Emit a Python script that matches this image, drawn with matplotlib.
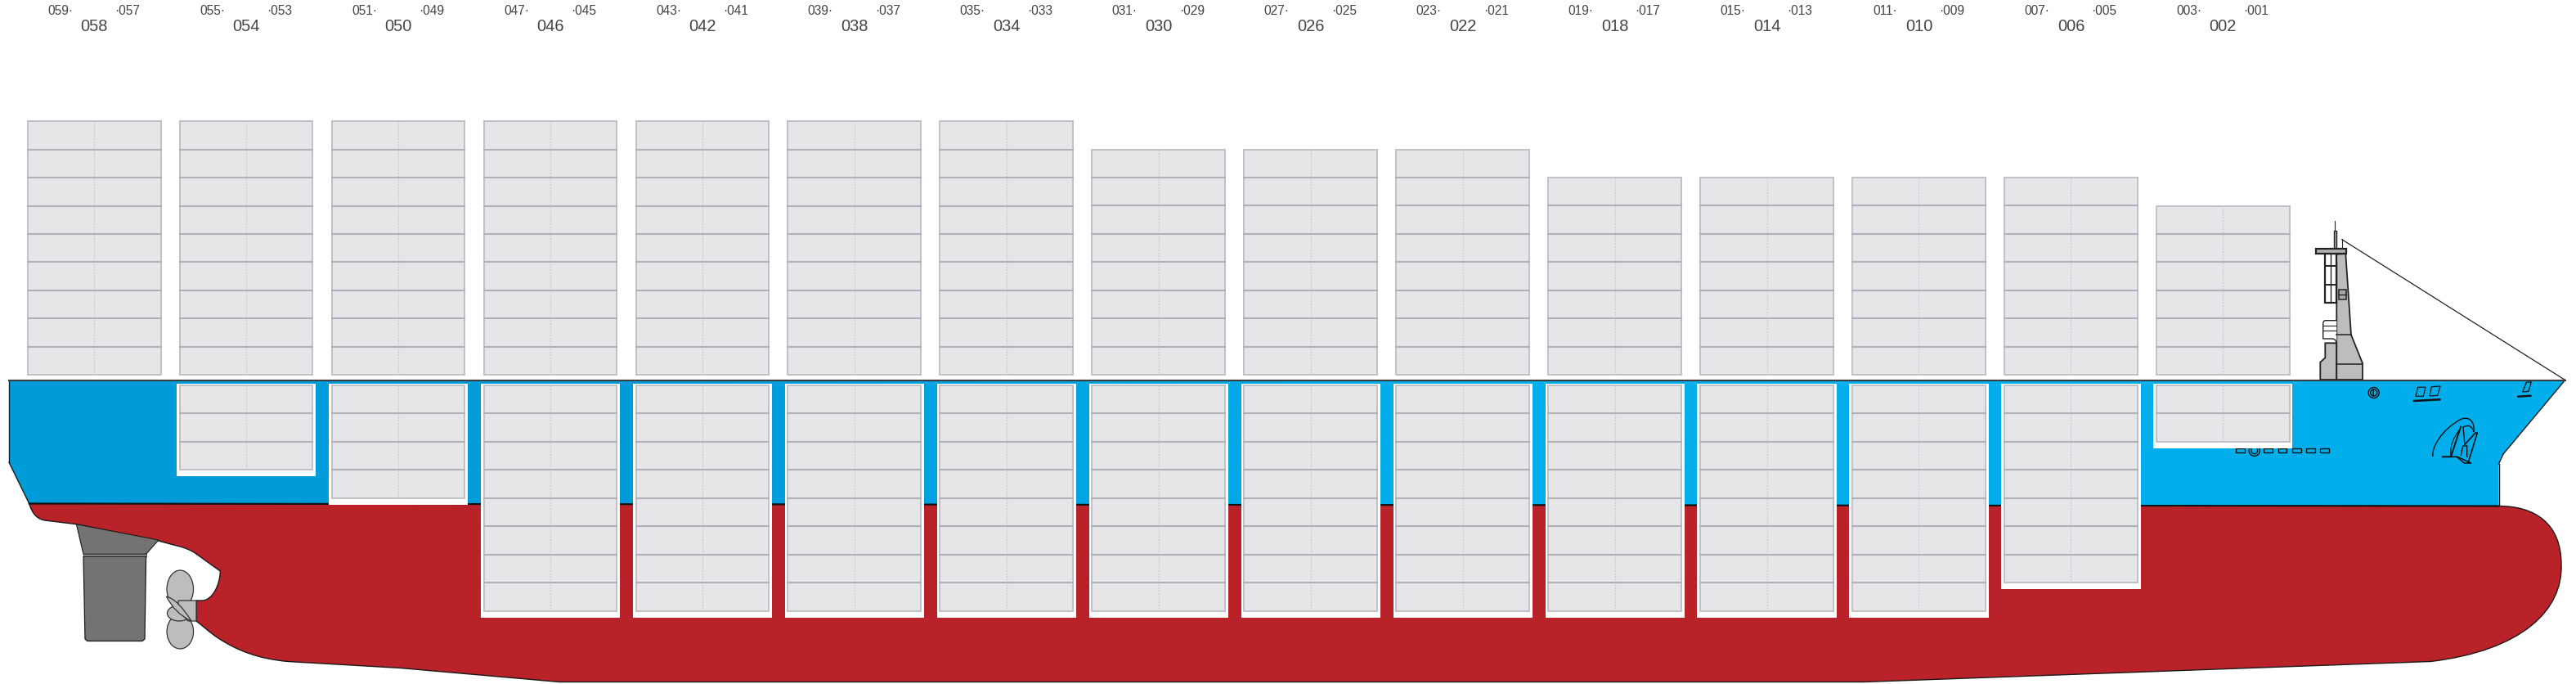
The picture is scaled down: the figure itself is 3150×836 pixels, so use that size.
import matplotlib
matplotlib.use("Agg")
import matplotlib.pyplot as plt
import numpy as np
from matplotlib.patches import Circle, Ellipse, PathPatch, Polygon, Rectangle
from matplotlib.path import Path

plt.rcParams['font.family'] = ['Liberation Sans', 'DejaVu Sans']

# one entry per bay, aft to fore
bay_labels = ["058", "054", "050", "046", "042", "038", "034", "030",
              "026", "022", "018", "014", "010", "006", "002"]
aft_labels = ["059", "055", "051", "047", "043", "039", "035", "031",
              "027", "023", "019", "015", "011", "007", "003"]
fore_labels = ["057", "053", "049", "045", "041", "037", "033", "029",
               "025", "021", "017", "013", "009", "005", "001"]
deck_rows = [9, 9, 9, 9, 9, 9, 9, 8, 8, 8, 7, 7, 7, 7, 6]
hold_rows = [0, 3, 4, 8, 8, 8, 8, 8, 8, 8, 8, 8, 8, 7, 2]

BAY_X0 = 33.7
BAY_PITCH = 185.95
BAY_W = 162.8
ROW_H = 34.45
DECK_BOTTOM = 458.2
HOLD_TOP = 471.0

RED = "#b92229"
LINE = "#1a1a1a"
GREY = "#bdbdbd"
DARK_GREY = "#737373"

# outlines in picture pixels
M, L, C3, C4 = Path.MOVETO, Path.LINETO, Path.CURVE3, Path.CURVE4
red_hull = [
    (M, (35.7, 615.5)), (L, (3055.5, 618.5)),
    (C4, (3100, 618.5)), (C4, (3132, 640)), (C4, (3132, 690)),
    (C4, (3134, 745)), (C4, (3085, 795)), (C4, (2972, 808.5)),
    (L, (2280, 833.5)), (L, (684, 833.5)), (L, (490, 816.5)), (L, (352, 808.5)),
    (C4, (315, 805)), (C4, (290, 795)), (C4, (267, 780)),
    (C4, (255, 772)), (C4, (248, 765)), (C4, (240, 759)),
    (L, (240, 734)), (L, (248, 734)),
    (C4, (260, 733)), (C4, (269, 715)), (C4, (269.3, 698)),
    (L, (240, 677)),
    (C4, (228, 668)), (C4, (210, 666)), (C4, (193.9, 661)),
    (L, (93.4, 640.7)), (L, (55, 636)),
    (C3, (41, 634)), (C3, (35.7, 615.5)),
]
blue_hull = [(11, 464.5), (3136.7, 464.5), (3061, 555), (3055.5, 567), (3055.5, 618.5),
             (35.7, 615.5), (11, 565)]
rudder_horn = [(93.4, 640.7), (193.9, 660), (178.6, 677.3), (102, 677.3)]
rudder = [(102, 680), (178.6, 680), (177, 781), (174, 783.5), (107, 783.5), (104, 781)]
mast_lower = [(2837.3, 464), (2837.3, 442.7), (2843.3, 437.3), (2843.3, 419.3),
              (2857.3, 419.3), (2857.3, 464)]
mast_main = [(2857.3, 464), (2857.3, 320), (2852, 311), (2868.3, 310),
             (2875, 409.3), (2889, 444), (2889, 464)]
forestay_x = [2863.8, 3136.7]
forestay_y = [292.7, 464.5]
vent_x = [2734.3, 2768.3, 2785.7, 2803, 2820, 2837]


def path_from(steps):
    codes = [c for c, _ in steps]
    verts = [v for _, v in steps]
    return Path(verts, codes)


fig = plt.figure(figsize=(31.5, 8.36), dpi=100)
ax = fig.add_axes([0, 0, 1, 1])
ax.set_xlim(0, 3150)
ax.set_ylim(836, 0)
ax.axis("off")

# side shell, darker aft and brighter forward
blue_patch = Polygon(blue_hull, closed=True, facecolor="none", edgecolor="none")
ax.add_patch(blue_patch)
shade = np.array([[0.0, 1.0]])
cmap = matplotlib.colors.LinearSegmentedColormap.from_list(
    "shell", ["#009cda", "#00a5e3", "#00aeeb", "#00aeeb"])
img = ax.imshow(shade, extent=(11, 3137, 620, 464), cmap=cmap, aspect="auto",
                interpolation="bilinear", zorder=1)
img.set_clip_path(blue_patch)
ax.set_xlim(0, 3150)
ax.set_ylim(836, 0)
for a, b in [(1, 2), (2, 3), (3, 4), (5, 6), (6, 0)]:
    ax.plot([blue_hull[a][0], blue_hull[b][0]], [blue_hull[a][1], blue_hull[b][1]],
            color=LINE, lw=1.0, zorder=2)
ax.plot([11, 3136.7], [464.5, 464.5], color="#3c3c3c", lw=1.5, zorder=4)

ax.add_patch(PathPatch(path_from(red_hull), facecolor=RED, edgecolor=LINE, lw=1.0, zorder=2))
ax.plot([35.7, 3055.5], [615.5, 618.5], color="#111111", lw=1.5, zorder=2.5)

# rudder
ax.add_patch(Polygon(rudder_horn, closed=True, facecolor=DARK_GREY, edgecolor=LINE, lw=0.8, zorder=2))
ax.add_patch(Rectangle((102, 677.3), 76.6, 2.7, facecolor="#a8a8a8", edgecolor=LINE, lw=0.5, zorder=2))
ax.add_patch(Polygon(rudder, closed=True, facecolor=DARK_GREY, edgecolor=LINE, lw=0.9, zorder=2))

# propeller
ax.add_patch(Ellipse((220.3, 720), 32.5, 46, facecolor=GREY, edgecolor="#333333", lw=0.9, zorder=3))
ax.add_patch(Ellipse((220.3, 772), 32.5, 42, facecolor=GREY, edgecolor="#333333", lw=0.9, zorder=3))
ax.add_patch(Ellipse((219, 749.5), 29, 19, facecolor=GREY, edgecolor="#333333", lw=0.9, zorder=3.05))
ax.add_patch(Polygon([(218, 734), (240, 734), (240, 759), (230, 759), (218, 746)], closed=True,
                     facecolor=GREY, edgecolor="#333333", lw=0.9, zorder=3.1))
ax.add_patch(PathPatch(Path([(203.5, 729), (218, 733), (234, 759), (214, 750), (203.5, 729)],
                            [M, C3, C3, C3, C3]),
                       facecolor=GREY, edgecolor="#333333", lw=0.9, zorder=3.2))

# hawse and vents sit under the white wells
ax.add_patch(Circle((2756.7, 550.7), 6.7, facecolor="none", edgecolor="#111111", lw=1.0, zorder=2))
ax.add_patch(Circle((2756.7, 550.7), 4, facecolor="none", edgecolor="#111111", lw=0.9, zorder=2))
for x in vent_x:
    ax.add_patch(Rectangle((x, 547.7), 10.5, 5.2, facecolor="none", edgecolor="#111111", lw=1.0, zorder=2))
ax.add_patch(Circle((2902.7, 480), 6.5, facecolor="none", edgecolor="#111111", lw=1.0, zorder=2))
ax.add_patch(Circle((2902.7, 480), 4, facecolor="none", edgecolor="#111111", lw=1.0, zorder=2))
ax.plot([2902, 2902], [476, 484], color="#111111", lw=1.2, zorder=2)

# marks on the bow
for shape in ([(2956.7, 473.3), (2966, 473.3), (2963.3, 484.3), (2954, 484.3)],
              [(2973.3, 472.7), (2984, 472), (2980.7, 483.3), (2971, 484)],
              [(3089.3, 467.3), (3095.3, 466.7), (3092, 478.3), (3084.7, 479)]):
    ax.add_patch(Polygon(shape, closed=True, facecolor="none", edgecolor="#111111", lw=0.9, zorder=2))
ax.plot([2952, 2983.3], [490, 488.3], color="#111111", lw=1.8, zorder=2)
ax.plot([3079.3, 3094.3], [484.7, 483.7], color="#111111", lw=1.7, zorder=2)

# anchor
ax.add_patch(PathPatch(Path([(2975, 558), (2973, 548), (2985, 525), (3010, 512),
                             (3023, 508), (3026, 520), (3025, 528)],
                            [M, C4, C4, C4, C4, C4, C4]),
                       facecolor="none", edgecolor="#111111", lw=1.0, zorder=2))
ax.add_patch(PathPatch(Path([(2997, 557), (2995, 540), (3008, 525)], [M, C3, C3]),
                       facecolor="none", edgecolor="#111111", lw=0.8, zorder=2))
ax.add_patch(PathPatch(Path([(3012, 522), (3022, 517), (3025, 528)], [M, C3, C3]),
                       facecolor="none", edgecolor="#111111", lw=1.0, zorder=2))
for xs, ys, w in [([2987, 2997, 3009], [558.3, 558.3, 521.7], 1.4),
                  ([3012, 3014, 3014], [521.7, 543.3, 543.3], 1.0),
                  ([3014, 3027, 3029.3, 3018.3], [543.3, 529, 529, 565], 1.2),
                  ([2997, 3005, 3021.7, 3013.3, 3005], [558.3, 558.3, 566, 566, 559], 1.1),
                  ([3009.3, 3011.7, 3016.7, 3016.7], [556.7, 545, 545, 558.3], 1.0)]:
    ax.plot(xs, ys, color="#111111", lw=w, zorder=2)

# white wells behind the hold stacks, then containers
for i in range(len(bay_labels)):
    left = BAY_X0 + i * BAY_PITCH
    mid = left + BAY_W / 2
    ax.text(mid, 32, bay_labels[i], fontsize=14.4, color="#444444", ha="center", va="center", zorder=6)
    ax.text(mid - 26, 13.5, aft_labels[i] + "·", fontsize=11.2, color="#444444", ha="right", va="center", zorder=6)
    ax.text(mid + 25, 13.5, "·" + fore_labels[i], fontsize=11.2, color="#444444", ha="left", va="center", zorder=6)

    stacks = [(DECK_BOTTOM - deck_rows[i] * ROW_H, deck_rows[i])]
    if hold_rows[i] > 0:
        bottom = HOLD_TOP + hold_rows[i] * ROW_H
        ax.add_patch(Rectangle((left - 3.7, 468.5), BAY_W + 7.4, bottom - 468.5 + 8,
                               facecolor="white", edgecolor="none", zorder=3))
        stacks.append((HOLD_TOP, hold_rows[i]))
    for top, rows in stacks:
        ax.add_patch(Rectangle((left, top), BAY_W, rows * ROW_H, facecolor="#e6e6e8",
                               edgecolor="#c0c0c8", lw=1.4, zorder=4))
        ax.plot([mid, mid], [top, top + rows * ROW_H], color="#cdcdd3", lw=1.0,
                ls=(0, (1.5, 1)), zorder=4.1)
        for r in range(1, rows):
            y = top + r * ROW_H
            ax.plot([left, left + BAY_W], [y, y], color="#b0b0b8", lw=1.5, zorder=4.2)

# deckhouse and mast
ax.add_patch(Polygon(mast_lower, closed=True, facecolor=GREY, edgecolor="#222222", lw=1.3, zorder=3))
ax.add_patch(Polygon(mast_main, closed=True, facecolor=GREY, edgecolor="#222222", lw=1.3, zorder=3))
ax.plot([2857.3, 2875], [409.3, 409.3], color="#222222", lw=1.1, zorder=3.1)
ax.plot([2857.3, 2889], [445, 445], color="#222222", lw=1.1, zorder=3.1)
ax.add_patch(Rectangle((2831.7, 304), 37.3, 6, facecolor="#b0b0b0", edgecolor="#222222", lw=1.6, zorder=3.2))
ax.add_patch(Rectangle((2854, 281.7), 3.3, 22.3, facecolor="#a8a8a8", edgecolor="#222222", lw=1, zorder=3))
ax.plot([2855.3, 2855.3], [270, 281.7], color="#222222", lw=0.8, zorder=3)
ax.plot([2863.7, 2863.7], [292.3, 304], color="#222222", lw=0.8, zorder=3)
ax.plot(forestay_x, forestay_y, color="#222222", lw=0.9, zorder=3)
ax.add_patch(Rectangle((2842.7, 310), 14.6, 60, facecolor="white", edgecolor="#222222", lw=1.6, zorder=3))
ax.plot([2850, 2850], [310, 370], color="#222222", lw=1.0, zorder=3.1)
for y in [325, 347.5]:
    ax.plot([2842.7, 2857.3], [y, y], color="#222222", lw=1.4, zorder=3.1)
ax.add_patch(Rectangle((2860, 354.3), 8.7, 11.7, facecolor="#a8a8a8", edgecolor="#222222", lw=1.1, zorder=3.2))
ax.plot([2860, 2868.7], [360, 360], color="#222222", lw=1.0, zorder=3.3)
ax.add_patch(PathPatch(Path([(2857.3, 391.7), (2844, 391.7), (2840.7, 391.7), (2840.7, 396),
                             (2840.7, 414), (2852, 414), (2856, 414), (2857.3, 419.3)],
                            [M, L, C3, C3, L, L, C3, C3]),
                       facecolor="white", edgecolor="#222222", lw=1.0, zorder=3))
for y in [398, 404]:
    ax.plot([2840.7, 2857.3], [y, y], color="#222222", lw=0.8, zorder=3.1)

fig.savefig("out.png", dpi=100, facecolor="white")
